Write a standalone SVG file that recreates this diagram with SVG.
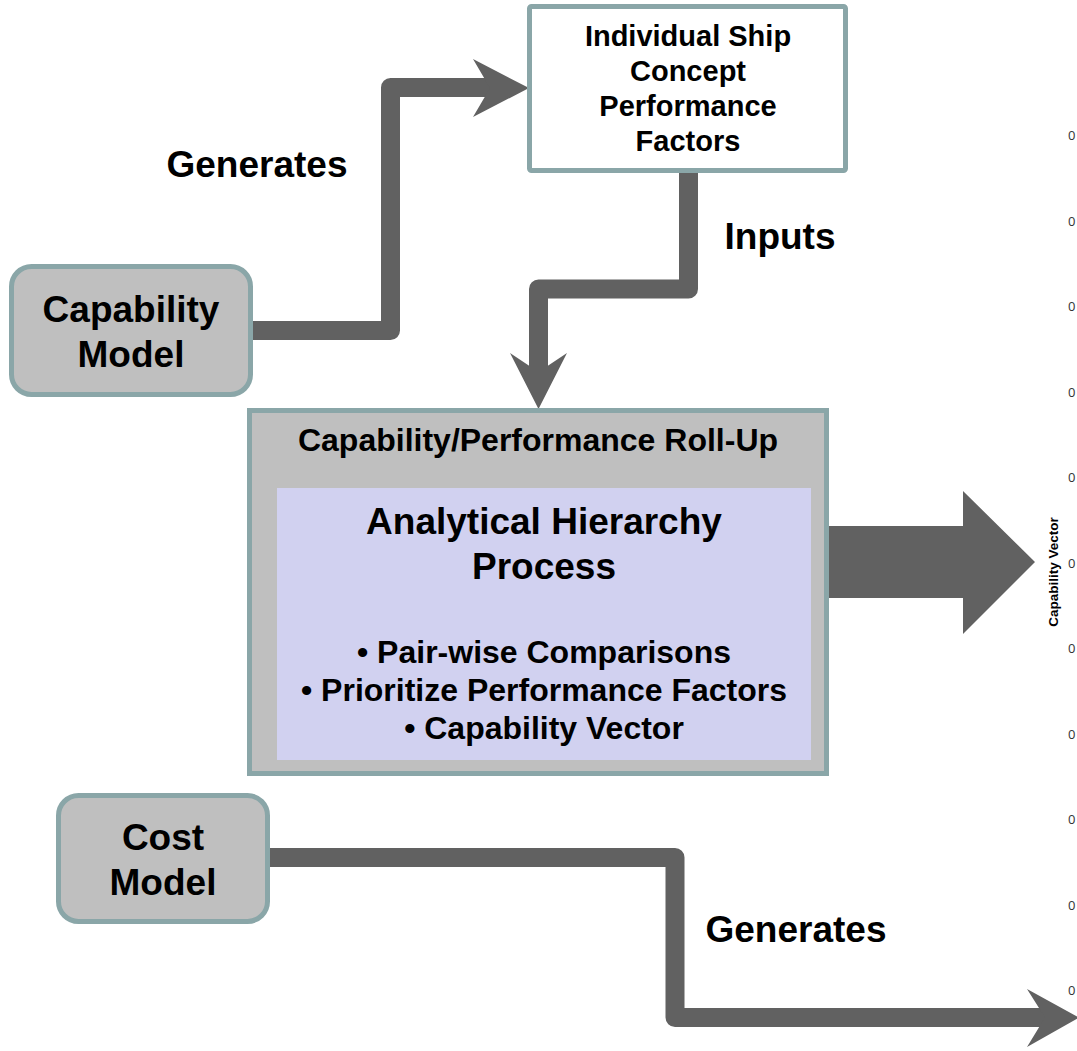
<svg xmlns="http://www.w3.org/2000/svg" width="1077" height="1051" viewBox="0 0 1077 1051">
<style>
.t{font-family:"Liberation Sans",Arial,sans-serif;font-weight:bold;fill:#000;text-anchor:middle}
.box{stroke:#8aa6a8;stroke-width:5}
.con{fill:none;stroke:#616161;stroke-width:19;stroke-linejoin:round}
.head{fill:#616161}
.tick{font-family:"Open Sans","Liberation Sans",Arial,sans-serif;font-size:13px;fill:#333}
</style>
<rect width="1077" height="1051" fill="#fff"/>
<g id="connectors">
<path class="con" d="M252,330.5 H390.5 V87.5 H490"/>
<polygon class="head" points="473,59 529,88 473,117 490,88"/>
<path class="con" d="M688.5,172 V289 H538.5 V372"/>
<polygon class="head" points="510,353 538.5,409 567,353 538.5,372"/>
<path class="con" d="M269,857.5 H675 V1017.5 H1045"/>
<polygon class="head" points="1027,989 1079,1017.5 1027,1047 1045,1017.5"/>
<polygon id="capability-vector-arrow" class="head" points="829,526 963,526 963,491 1035,562 963,634 963,598 829,598"/>
</g>
<g id="top-box">
<rect class="box" x="529.5" y="6.5" width="316" height="164" rx="2" fill="#fff"/>
<text class="t" font-size="29" x="688" y="46">Individual Ship</text>
<text class="t" font-size="29" x="688" y="81">Concept</text>
<text class="t" font-size="29" x="688" y="116">Performance</text>
<text class="t" font-size="29" x="688" y="151">Factors</text>
</g>
<g id="capability-model">
<rect class="box" x="11.5" y="266.5" width="239" height="128" rx="20" fill="#bfbfbf"/>
<text class="t" font-size="37" x="131" y="322">Capability</text>
<text class="t" font-size="37" x="131" y="367">Model</text>
</g>
<g id="rollup">
<rect class="box" x="249.5" y="410.5" width="577" height="363" fill="#bfbfbf"/>
<text class="t" font-size="32" x="538" y="451">Capability/Performance Roll-Up</text>
<rect x="277" y="488" width="534" height="272" fill="#d1d1f0"/>
<text class="t" font-size="37" x="544" y="534">Analytical Hierarchy</text>
<text class="t" font-size="37" x="544" y="579">Process</text>
<text class="t" font-size="32" x="544" y="663">• Pair-wise Comparisons</text>
<text class="t" font-size="32" x="544" y="701">• Prioritize Performance Factors</text>
<text class="t" font-size="32" x="544" y="739">• Capability Vector</text>
</g>
<g id="cost-model">
<rect class="box" x="58.5" y="795.5" width="209" height="126" rx="20" fill="#bfbfbf"/>
<text class="t" font-size="37" x="163" y="850">Cost</text>
<text class="t" font-size="37" x="163" y="895">Model</text>
</g>
<g id="labels">
<text class="t" font-size="37" x="257" y="177">Generates</text>
<text class="t" font-size="37" x="780" y="249">Inputs</text>
<text class="t" font-size="37" x="796" y="942">Generates</text>
<text class="t" font-size="13.5" transform="translate(1058,572) rotate(-90)" x="0" y="0">Capability Vector</text>
</g>
<g id="axis-ticks">
<text class="tick" x="1068" y="140">0</text>
<text class="tick" x="1068" y="225.5">0</text>
<text class="tick" x="1068" y="311">0</text>
<text class="tick" x="1068" y="396.5">0</text>
<text class="tick" x="1068" y="482">0</text>
<text class="tick" x="1068" y="567.5">0</text>
<text class="tick" x="1068" y="653">0</text>
<text class="tick" x="1068" y="738.5">0</text>
<text class="tick" x="1068" y="824">0</text>
<text class="tick" x="1068" y="909.5">0</text>
<text class="tick" x="1068" y="995">0</text>
</g>
</svg>
